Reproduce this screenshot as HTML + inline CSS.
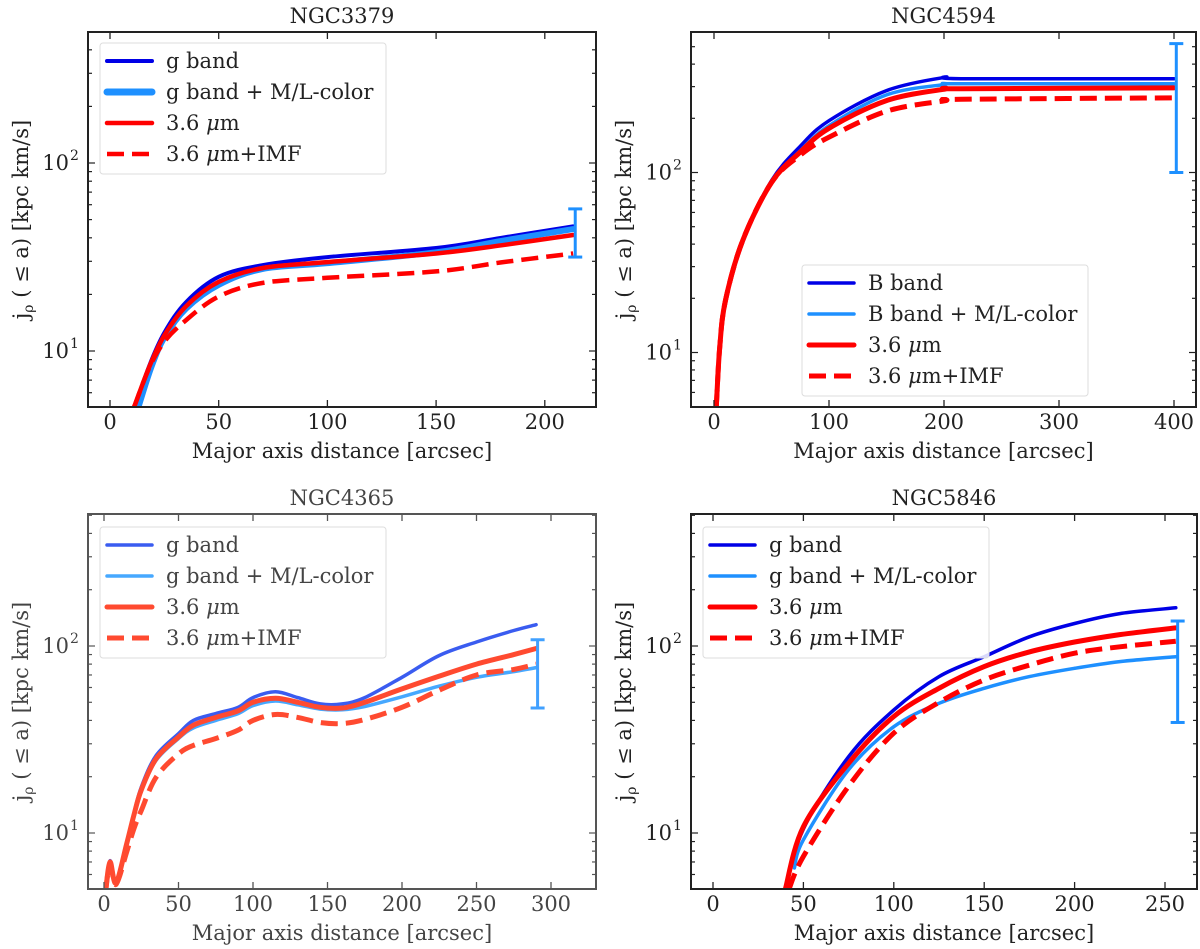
<!DOCTYPE html>
<html><head><meta charset="utf-8">
<style>
html,body{margin:0;padding:0;background:#fff;}
svg{display:block;font-family:"DejaVu Serif","Liberation Serif",serif;}
</style></head>
<body>
<svg id="fig" width="1200" height="949" viewBox="0 0 1200 949" xmlns="http://www.w3.org/2000/svg"></svg>
<script>
// ---- Panel 1: NGC3379 ----
const p1X_g   = [11.5, 18, 25, 35, 50, 70, 100, 150, 180, 213];
const p1Y_g   = [5, 8.3, 12.5, 18.2, 24.8, 28.6, 31.6, 35.3, 40, 46];
const p1X_gml = [13, 19, 25, 35, 50, 70, 100, 150, 180, 213];
const p1Y_gml = [5, 8.2, 11.8, 16.8, 22.5, 27.3, 29.3, 33.5, 38.5, 44.5];
const p1X_r   = [11, 18, 25, 35, 50, 70, 100, 150, 180, 213];
const p1Y_r   = [5, 8.2, 12.1, 17.3, 23.3, 27.6, 29.7, 33, 36.5, 41.4];
const p1X_imf = [11, 18, 25, 35, 50, 70, 100, 150, 180, 213];
const p1Y_imf = [5, 8.1, 11.2, 14.6, 19.5, 23, 24.5, 26.5, 29.6, 33];
const p1Err   = [214, 31.6, 57];
// ---- Panel 2: NGC4594 ----
const p2X_b   = [2, 5, 10, 25, 50, 75, 100, 150, 200, 215, 400];
const p2Y_b   = [5, 10.8, 19.5, 42, 90, 140, 194, 285, 337, 332, 332];
const p2X_bml = [2.5, 5, 10, 25, 50, 75, 100, 150, 200, 215, 400];
const p2Y_bml = [5, 10.5, 19, 41, 88, 132, 182, 270, 308, 311, 311];
const p2X_r   = [2, 5, 10, 25, 50, 75, 100, 150, 200, 215, 400];
const p2Y_r   = [5, 10.8, 19.5, 42, 88, 130, 176, 251, 290, 292, 295];
const p2X_imf = [2, 5, 10, 25, 50, 75, 100, 150, 200, 215, 400];
const p2Y_imf = [5, 10.8, 19.5, 42, 88, 125, 157, 219, 250, 255, 260];
const p2Err   = [402, 100, 520];
// ---- Panel 3: NGC4365 ----
const p3X_g   = [1, 4, 8, 15, 20, 25, 35, 50, 60, 75, 90, 100, 115, 130, 145, 160, 175, 200, 225, 250, 275, 290];
const p3Y_g   = [4.8, 7.1, 5.5, 8.7, 12.6, 17.6, 26, 34, 40, 43.5, 47, 53, 57, 53, 49, 49, 53, 68, 89, 105, 121, 130];
const p3X_gml = [1, 4, 8, 15, 20, 25, 35, 50, 60, 75, 90, 100, 115, 130, 145, 160, 175, 200, 225, 250, 275, 290];
const p3Y_gml = [4.8, 6.9, 5.4, 8.5, 12.2, 16.8, 24.5, 32, 36.5, 40, 43.5, 48, 50.8, 48.5, 46, 45.6, 47.5, 53.5, 61, 68, 73, 76.6];
const p3X_r   = [1, 4, 8, 15, 20, 25, 35, 50, 60, 75, 90, 100, 115, 130, 145, 160, 175, 200, 225, 250, 275, 290];
const p3Y_r   = [4.8, 7, 5.4, 8.6, 12.4, 17, 25, 32.6, 37.7, 41.5, 45, 50, 52.5, 50, 47, 46.6, 50, 59, 69, 80, 90, 97];
const p3X_imf = [1, 4, 8, 15, 20, 25, 35, 50, 60, 75, 90, 100, 115, 130, 145, 160, 175, 200, 225, 250, 275, 290];
const p3Y_imf = [4.8, 6.8, 5.3, 7.8, 10.5, 13.2, 19.9, 26.5, 29.4, 32, 35.5, 40, 43, 41.5, 39, 38.5, 40.5, 47, 58, 70, 75, 80];
const p3Err   = [291, 46.6, 108];
// ---- Panel 4: NGC5846 ----
const p4X_g   = [40, 50, 75, 100, 125, 150, 175, 200, 225, 256];
const p4Y_g   = [5, 10.5, 25.6, 45.5, 68.6, 87.7, 112, 132, 149, 160];
const p4X_gml = [45, 50, 75, 100, 125, 150, 175, 200, 225, 256];
const p4Y_gml = [6.5, 9.2, 21.8, 37, 49.4, 59.4, 68.6, 76, 82.5, 87.7];
const p4X_r   = [40, 50, 75, 100, 125, 150, 175, 200, 225, 256];
const p4Y_r   = [5, 10.8, 23.6, 42, 59.4, 77.6, 93, 105, 115, 125];
const p4X_imf = [42, 50, 75, 100, 125, 150, 175, 200, 225, 256];
const p4Y_imf = [5, 7.5, 17.8, 34.2, 50, 65.9, 79, 91.5, 99, 106];
const p4Err   = [257, 39, 136];
// tick label arrays
const p1XTicks = [0, 50, 100, 150, 200];
const p2XTicks = [0, 100, 200, 300, 400];
const p3XTicks = [0, 50, 100, 150, 200, 250, 300];
const p4XTicks = [0, 50, 100, 150, 200, 250];
const yTickExps = [1, 2];

const NS = "http://www.w3.org/2000/svg";
const svg = document.getElementById('fig');
function mk(tag, attrs, parent){
  const e = document.createElementNS(NS, tag);
  for (const k in attrs) e.setAttribute(k, attrs[k]);
  (parent || svg).appendChild(e);
  return e;
}
function smoothPath(pts){
  if (pts.length < 2) return '';
  let d = 'M' + pts[0][0].toFixed(1) + ',' + pts[0][1].toFixed(1);
  for (let i = 0; i < pts.length - 1; i++){
    const p0 = pts[i-1] || pts[i], p1 = pts[i], p2 = pts[i+1], p3 = pts[i+2] || p2;
    const c1x = p1[0] + (p2[0]-p0[0])/6, c1y = p1[1] + (p2[1]-p0[1])/6;
    const c2x = p2[0] - (p3[0]-p1[0])/6, c2y = p2[1] - (p3[1]-p1[1])/6;
    d += ' C' + c1x.toFixed(1) + ',' + c1y.toFixed(1) + ' ' + c2x.toFixed(1) + ',' + c2y.toFixed(1) + ' ' + p2[0].toFixed(1) + ',' + p2[1].toFixed(1);
  }
  return d;
}

function panel(cfg){
  const g = mk('g', {});
  
  
  const L = cfg.box[0], R = cfg.box[1], T = cfg.box[2], B = cfg.box[3];
  const xs = v => cfg.x0 + v * cfg.k;
  const ys = v => cfg.y100 - (Math.log10(v) - 2) * cfg.dec;
  const txt = cfg.textColor;
  const clipId = 'clip-' + cfg.name;
  const cp = mk('clipPath', {id: clipId}, g);
  mk('rect', {x: L, y: T, width: R - L, height: B - T}, cp);

  const t = mk('text', {x: (L+R)/2, y: T - 9, 'text-anchor': 'middle', 'font-size': 21, fill: txt}, g);
  t.textContent = cfg.title;
  
  

  const sg = mk('g', {'clip-path': 'url(#' + clipId + ')'}, g);
  cfg.series.forEach(s => {
    const pts = s.x.map((xv, i) => [xs(xv), ys(s.y[i])]);
    const p = mk('path', {d: smoothPath(pts), fill: 'none', stroke: s.color, 'stroke-width': s.w, 'stroke-linecap': s.dash ? 'butt' : 'round', 'stroke-linejoin': 'round'}, sg);
    if (s.dash) p.setAttribute('stroke-dasharray', s.dash);
    
    
  });
  const ex = xs(cfg.err[0]), ey1 = ys(cfg.err[1]), ey2 = ys(cfg.err[2]);
  const eb = mk('g', {stroke: cfg.errColor, 'stroke-width': 3}, g);
  
  
  mk('line', {x1: ex, x2: ex, y1: ey1, y2: ey2}, eb);
  mk('line', {x1: ex-7, x2: ex+7, y1: ey1, y2: ey1}, eb);
  mk('line', {x1: ex-7, x2: ex+7, y1: ey2, y2: ey2}, eb);

  const lg = mk('g', {}, g);
  
  
  const lx = cfg.leg[0], ly = cfg.leg[1];
  mk('rect', {x: lx, y: ly, width: 286, height: 131, rx: 3, fill: 'rgba(255,255,255,0.85)', stroke: '#ddd', 'stroke-width': 1}, lg);
  cfg.series.forEach((s, i) => {
    const ry = ly + 18 + i * 31;
    const e = mk('g', {}, lg);
    
    
    const ln = mk('line', {x1: lx + 7, x2: lx + 52, y1: ry, y2: ry, stroke: s.color, 'stroke-width': s.lw || s.w, 'stroke-linecap': s.dash ? 'butt' : 'round'}, e);
    if (s.dash) ln.setAttribute('stroke-dasharray', '17 8');
    const tx = mk('text', {x: lx + 66, y: ry + 7, 'font-size': 21, fill: txt}, e);
    tx.innerHTML = s.label;
  });

  const box = mk('rect', {x: L, y: T, width: R - L, height: B - T, fill: 'none', stroke: cfg.axisColor, 'stroke-width': 2}, g);
  
  

  const xt = mk('g', {}, g);
  
  
  cfg.xticks.forEach(v => {
    const x = xs(v);
    mk('line', {x1: x, x2: x, y1: B, y2: B - 7, stroke: cfg.axisColor, 'stroke-width': 1.3}, xt);
    mk('line', {x1: x, x2: x, y1: T, y2: T + 7, stroke: cfg.axisColor, 'stroke-width': 1.3}, xt);
    const l = mk('text', {x: x, y: B + 22, 'text-anchor': 'middle', 'font-size': 21, fill: txt}, xt);
    l.textContent = v;
  });
  const xl = mk('text', {x: (L+R)/2, y: B + 51, 'text-anchor': 'middle', 'font-size': 21, fill: txt}, g);
  xl.textContent = 'Major axis distance [arcsec]';
  
  

  const yt = mk('g', {}, g);
  
  
  for (let e = 0; e <= 3; e++){
    for (let m = 1; m <= 9; m++){
      const v = m * Math.pow(10, e);
      const y = ys(v);
      if (y < T + 1 || y > B - 1) continue;
      const len = m === 1 ? 7 : 4;
      mk('line', {x1: L, x2: L + len, y1: y, y2: y, stroke: cfg.axisColor, 'stroke-width': 1.2}, yt);
      mk('line', {x1: R, x2: R - len, y1: y, y2: y, stroke: cfg.axisColor, 'stroke-width': 1.2}, yt);
    }
  }
  yTickExps.forEach(e => {
    const y = ys(Math.pow(10, e));
    const l = mk('text', {x: L - 19, y: y + 7, 'text-anchor': 'end', 'font-size': 21, fill: txt}, yt);
    l.textContent = '10';
    const s = mk('text', {x: L - 18, y: y - 3, 'text-anchor': 'start', 'font-size': 14, fill: txt}, yt);
    s.textContent = e;
  });
  const yl = mk('text', {x: 0, y: 0, 'text-anchor': 'middle', 'font-size': 21, fill: txt, transform: 'translate(' + (L - 60) + ',' + ((T+B)/2) + ') rotate(-90)'}, g);
  yl.innerHTML = 'j<tspan font-size="14" dy="5">ρ</tspan><tspan dy="-5"> ( ≤  a) [kpc km/s]</tspan>';
  
  
}

const BLUE = '#0000e6', LB = '#1e90ff', RED = '#ff0000';
panel({name: 'panel-ngc3379', title: 'NGC3379', box: [88, 596, 32, 407], x0: 110, k: 2.174, y100: 163, dec: 188,
  textColor: '#222', axisColor: '#222', errColor: LB, err: p1Err, xticks: p1XTicks, leg: [100, 43],
  series: [
    {id: 'g-band', x: p1X_g, y: p1Y_g, color: BLUE, w: 4, label: 'g band'},
    {id: 'g-band-ml-color', x: p1X_gml, y: p1Y_gml, color: LB, w: 6, lw: 7, label: 'g band + M/L-color'},
    {id: 'irac-3-6', x: p1X_r, y: p1Y_r, color: RED, w: 4.5, label: '3.6 <tspan font-style="italic">μ</tspan>m'},
    {id: 'irac-3-6-imf', x: p1X_imf, y: p1Y_imf, color: RED, w: 4.5, dash: '17 8', label: '3.6 <tspan font-style="italic">μ</tspan>m+IMF'}
  ]});
panel({name: 'panel-ngc4594', title: 'NGC4594', box: [691, 1196, 32, 407], x0: 714, k: 1.15, y100: 172.5, dec: 180,
  textColor: '#222', axisColor: '#222', errColor: LB, err: p2Err, xticks: p2XTicks, leg: [802, 265],
  series: [
    {id: 'b-band', x: p2X_b, y: p2Y_b, color: BLUE, w: 3.5, label: 'B band'},
    {id: 'b-band-ml-color', x: p2X_bml, y: p2Y_bml, color: LB, w: 3.5, label: 'B band + M/L-color'},
    {id: 'irac-3-6', x: p2X_r, y: p2Y_r, color: RED, w: 5, label: '3.6 <tspan font-style="italic">μ</tspan>m'},
    {id: 'irac-3-6-imf', x: p2X_imf, y: p2Y_imf, color: RED, w: 5, dash: '17 8', label: '3.6 <tspan font-style="italic">μ</tspan>m+IMF'}
  ]});
panel({name: 'panel-ngc4365', title: 'NGC4365', box: [88, 596, 514, 889], x0: 104, k: 1.49, y100: 646, dec: 187,
  textColor: '#444', axisColor: '#555', errColor: '#40a0ff', err: p3Err, xticks: p3XTicks, leg: [100, 527],
  series: [
    {id: 'g-band', x: p3X_g, y: p3Y_g, color: '#3a5cf0', w: 3.5, label: 'g band'},
    {id: 'g-band-ml-color', x: p3X_gml, y: p3Y_gml, color: '#46a8ff', w: 3.5, label: 'g band + M/L-color'},
    {id: 'irac-3-6', x: p3X_r, y: p3Y_r, color: '#ff4a30', w: 5, label: '3.6 <tspan font-style="italic">μ</tspan>m'},
    {id: 'irac-3-6-imf', x: p3X_imf, y: p3Y_imf, color: '#ff4a30', w: 5, dash: '17 8', label: '3.6 <tspan font-style="italic">μ</tspan>m+IMF'}
  ]});
panel({name: 'panel-ngc5846', title: 'NGC5846', box: [691, 1197, 514, 889], x0: 713, k: 1.808, y100: 646, dec: 187,
  textColor: '#222', axisColor: '#222', errColor: LB, err: p4Err, xticks: p4XTicks, leg: [703, 527],
  series: [
    {id: 'g-band', x: p4X_g, y: p4Y_g, color: BLUE, w: 3.5, label: 'g band'},
    {id: 'g-band-ml-color', x: p4X_gml, y: p4Y_gml, color: LB, w: 3.5, label: 'g band + M/L-color'},
    {id: 'irac-3-6', x: p4X_r, y: p4Y_r, color: RED, w: 5, label: '3.6 <tspan font-style="italic">μ</tspan>m'},
    {id: 'irac-3-6-imf', x: p4X_imf, y: p4Y_imf, color: RED, w: 5, dash: '17 8', label: '3.6 <tspan font-style="italic">μ</tspan>m+IMF'}
  ]});
</script>
</body></html>
